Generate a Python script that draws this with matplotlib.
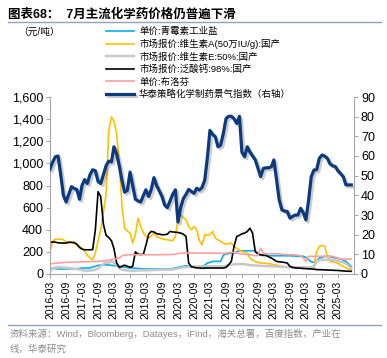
import matplotlib
matplotlib.use('Agg')
import matplotlib.pyplot as plt
import matplotlib.patheffects as pe
import pandas as pd

plt.rcParams['font.family'] = ['Liberation Sans', 'Noto Sans CJK SC']
plt.rcParams['axes.unicode_minus'] = False

# 月度数据 2016-03 ~ 2025-08
dates = pd.date_range('2016-03-01', periods=114, freq='MS')

# 单价:青霉素工业盐（元/吨）
penicillin = [54, 50, 48, 46, 45, 45, 45, 46, 46, 47, 48, 50, 54, 54, 54, 56, 62, 70, 78, 80,
              82, 84, 82, 78, 76, 72, 70, 65, 62, 58, 55, 54, 52, 50, 48, 46, 45, 45, 45, 45,
              45, 45, 45, 45, 45, 46, 48, 55, 60, 65, 70, 75, 72, 69, 63, 63, 65, 69, 80, 99,
              105, 114, 114, 114, 114, 170, 183, 185, 189, 189, 200, 210, 210, 210, 210, 210, 210, 210, 174, 168,
              168, 168, 166, 165, 165, 165, 165, 165, 165, 165, 165, 163, 162, 160, 160, 160, 150, 129, 110, 105,
              120, 144, 150, 160, 160, 158, 150, 145, 144, 135, 125, 114, 90, 69]
# 市场报价:维生素A(50万IU/g):国产
vit_a = [204, 294, 315, 315, 315, 309, 290, 280, 285, 275, 264, 250, 234, 205, 170, 144, 129, 190, 300, 400,
         560, 720, 1300, 1420, 1380, 1270, 1000, 610, 414, 390, 370, 280, 354, 505, 430, 370, 340, 325, 345, 370,
         340, 330, 318, 312, 309, 305, 300, 340, 490, 535, 510, 490, 430, 400, 430, 400, 300, 264, 354, 354,
         354, 384, 324, 310, 295, 280, 270, 275, 279, 250, 234, 215, 204, 195, 189, 144, 125, 114, 105, 99,
         99, 96, 93, 90, 84, 80, 75, 69, 66, 63, 63, 58, 55, 54, 55, 58, 60, 63, 66, 69,
         200, 249, 258, 250, 160, 114, 110, 105, 95, 80, 69, 55, 45, 39]
# 市场报价:维生素E:50%:国产
vit_e = [24, 54, 58, 60, 60, 58, 56, 54, 52, 48, 45, 40, 35, 30, 30, 32, 35, 39, 50, 69,
         90, 105, 99, 114, 105, 84, 50, 39, 35, 32, 30, 30, 30, 32, 33, 33, 33, 34, 35, 36,
         37, 38, 39, 39, 39, 39, 40, 45, 50, 55, 60, 60, 65, 69, 69, 69, 69, 69, 69, 69,
         69, 69, 69, 69, 69, 69, 75, 80, 84, 87, 90, 90, 90, 88, 85, 80, 78, 78, 75, 74,
         73, 72, 71, 70, 69, 69, 65, 64, 63, 62, 61, 60, 60, 60, 60, 60, 60, 60, 62, 65,
         114, 125, 129, 129, 129, 129, 129, 125, 118, 110, 105, 95, 75, 54]
# 市场报价:泛酸钙:98%:国产
calcium = [285, 290, 288, 282, 280, 280, 280, 288, 286, 285, 270, 240, 225, 219, 219, 219, 220, 400, 744, 700,
           450, 350, 330, 300, 230, 100, 60, 70, 80, 70, 60, 70, 200, 180, 175, 180, 260, 360, 385, 380,
           365, 360, 355, 355, 360, 385, 380, 378, 375, 370, 360, 340, 100, 65, 60, 55, 55, 52, 54, 55,
           54, 54, 54, 54, 54, 54, 60, 84, 114, 249, 338, 350, 363, 370, 384, 414, 369, 200, 185, 174,
           170, 168, 155, 144, 130, 114, 110, 108, 104, 99, 69, 60, 55, 54, 52, 50, 48, 47, 46, 44,
           40, 39, 38, 37, 36, 35, 34, 33, 32, 30, 28, 26, 25, 24]
# 单价:布洛芬
ibuprofen = [90, 95, 98, 100, 102, 104, 105, 106, 107, 108, 108, 108, 108, 110, 111, 112, 113, 114, 114, 115,
             118, 122, 125, 129, 135, 140, 144, 165, 170, 174, 174, 174, 174, 174, 174, 174, 174, 174, 174, 174,
             174, 174, 175, 175, 176, 176, 177, 178, 185, 189, 189, 189, 189, 189, 189, 189, 189, 189, 189, 189,
             189, 189, 189, 189, 189, 183, 190, 193, 195, 195, 190, 183, 180, 178, 176, 175, 170, 165, 170, 234,
             189, 183, 183, 183, 183, 183, 183, 178, 176, 175, 174, 174, 172, 168, 165, 144, 114, 160, 160, 160,
             160, 160, 160, 160, 160, 160, 160, 150, 140, 135, 135, 135, 135, 135]
# 华泰策略化学制药景气指数（右轴）
index_r = [53.4, 57, 59.6, 60, 50.6, 40, 36.6, 40.5, 44.4, 43.5, 43, 38, 45, 48, 46, 50.5, 53, 52.5, 47, 46,
           50.5, 55, 57.4, 57, 64.7, 61, 55, 47.5, 41.6, 42.5, 51.8, 45, 38, 37.2, 36.6, 40, 42.8, 39.4, 43, 49,
           45, 42.2, 39.4, 35, 33.75, 37.1, 40.5, 42.8, 26.4, 33.8, 38.3, 40.5, 43, 42, 41, 43.6, 42.7, 44, 47.8, 59.6,
           73, 71, 69.8, 64.7, 65.5, 71.5, 79, 80.2, 80.2, 79, 76.5, 80.2, 62, 59.6, 64.7, 62, 60, 58, 53.7, 49.5,
           53.7, 54, 54, 54.6, 58, 47.8, 37.7, 32.6, 32, 31.8, 28.4, 29.3, 30, 30, 33.4, 31, 27.5, 37.7, 49.5, 52.9,
           53, 58.8, 60.5, 60, 58.8, 56, 55, 54.6, 52.5, 51, 49.5, 45.3, 45.3, 45.3]

tick_dates = pd.date_range('2016-03-01', '2025-03-01', freq='6MS')

fig = plt.figure(figsize=(3.87, 3.58), dpi=100)
ax = fig.add_axes([50 / 387, 1 - 274 / 358, 304 / 387, 177 / 358])
ax2 = ax.twinx()

lw = 1.2
l1, = ax.plot(dates, penicillin, color='#00B0F0', lw=lw, label='单价:青霉素工业盐')
l2, = ax.plot(dates, vit_a, color='#FFC000', lw=lw, label='市场报价:维生素A(50万IU/g):国产')
l3, = ax.plot(dates, vit_e, color='#C8C8C8', lw=lw + 0.6, label='市场报价:维生素E:50%:国产')
l4, = ax.plot(dates, calcium, color='#000000', lw=lw, label='市场报价:泛酸钙:98%:国产')
l5, = ax.plot(dates, ibuprofen, color='#FF9F9F', lw=lw, label='单价:布洛芬')
l6, = ax2.plot(dates, index_r, color='#0B3A7E', lw=2.3, label='华泰策略化学制药景气指数（右轴）',
               path_effects=[pe.SimpleLineShadow(offset=(1.5, -1.5), alpha=0.2), pe.Normal()])

ax.set_ylim(0, 1600)
ax.set_yticks(range(0, 1601, 200))
ax.yaxis.set_major_formatter(matplotlib.ticker.FuncFormatter(lambda v, p: f'{int(v):,}'))
ax2.set_ylim(0, 90)
ax2.set_yticks(range(0, 91, 10))
ax.set_xlim(pd.Timestamp('2016-03-01'), pd.Timestamp('2025-09-01'))
ax.set_xticks(tick_dates)
ax.set_xticklabels([d.strftime('%Y-%m') for d in tick_dates], rotation=90, fontsize=7.5)

for a in (ax, ax2):
    a.spines['top'].set_visible(False)
    for s in ('left', 'right', 'bottom'):
        a.spines[s].set_color('#A6A6A6')
    a.tick_params(axis='both', length=3, color='#A6A6A6', labelsize=9, pad=2)
ax.tick_params(axis='x', labelsize=7.5)
ax.spines['right'].set_visible(False)
ax2.spines['left'].set_visible(False)
ax2.spines['bottom'].set_visible(False)

fig.legend(handles=[l1, l2, l3, l4, l5, l6], loc='upper left', bbox_to_anchor=(106 / 387, 1 - 27 / 358),
           frameon=False, fontsize=6.8, handlelength=3.0, handletextpad=0.5, labelspacing=0.32,
           borderaxespad=0, borderpad=0)

fig.text(8 / 387, 1 - 14 / 358, '图表68：  7月主流化学药价格仍普遍下滑', fontsize=9,
         fontweight='bold', va='center', ha='left')
fig.add_artist(plt.Line2D([8 / 387, 381 / 387], [1 - 22 / 358, 1 - 22 / 358], color='#8EA3BD', lw=1))
fig.text(18 / 387, 1 - 32 / 358, '（元/吨）', fontsize=7, va='center', ha='left')
fig.add_artist(plt.Line2D([8 / 387, 381 / 387], [1 - 325 / 358, 1 - 325 / 358], color='#8EA3BD', lw=1))
fig.text(10 / 387, 1 - 334 / 358, '资料来源：Wind，Bloomberg，Datayes，iFind，海关总署，百度指数，产业在',
         fontsize=6.8, color='#8C8C8C', va='center', ha='left')
fig.text(10 / 387, 1 - 349 / 358, '线，华泰研究', fontsize=6.8, color='#8C8C8C', va='center', ha='left')

fig.savefig('out.png', dpi=100)
